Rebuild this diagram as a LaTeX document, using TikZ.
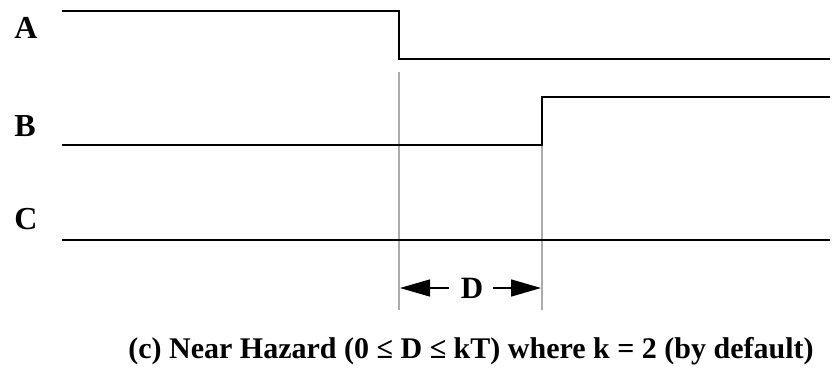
\documentclass[tikz,border=0pt]{standalone}
\usepackage{fontspec}
\setmainfont{Liberation Serif}
\usetikzlibrary{arrows.meta}
\tikzset{
  sig/.style={line width=1.8pt, black},
  guide/.style={line width=1.4pt, black!33},
  lbl/.style={font=\fontsize{32}{32}\selectfont\bfseries, inner sep=0pt},
  dimarrow/.style={line width=1.4pt, -{Triangle[length=30pt,width=17pt]}},
}
\begin{document}
\begin{tikzpicture}[x=1pt,y=-1pt]
\useasboundingbox (0,0) rectangle (838,370);
% signal labels
\node[lbl] (la) at (26,28) {A};
\node[lbl] (lb) at (25,126) {B};
\node[lbl] (lc) at (26,219) {C};
% guides
\coordinate (g1t) at (399,72);
\coordinate (g1b) at (399,310);
\coordinate (g2t) at (542,145);
\coordinate (g2b) at (542,310);
\draw[guide] (g1t) -- (g1b);
\draw[guide] (g2t) -- (g2b);
% signals
\draw[sig] (62,11) -- (399,11) -- (399,59) -- (830,59);
\draw[sig] (62,145) -- (542,145) -- (542,97) -- (830,97);
\draw[sig] (62,240) -- (830,240);
% dimension D
\node[lbl, font=\fontsize{31}{31}\selectfont\bfseries] (d) at (472,288) {D};
\coordinate (dl) at (400,288);
\coordinate (dr) at (541,288);
\draw[dimarrow] ([xshift=-12pt]d.west) -- (dl);
\draw[dimarrow] ([xshift=10pt]d.east) -- (dr);
% caption
\node[lbl, font=\fontsize{30}{30}\selectfont\bfseries, anchor=base] (cap) at (471,358)
  {(c) Near Hazard (0 ≤ D ≤ kT) where k = 2 (by default)};
\end{tikzpicture}
\end{document}
